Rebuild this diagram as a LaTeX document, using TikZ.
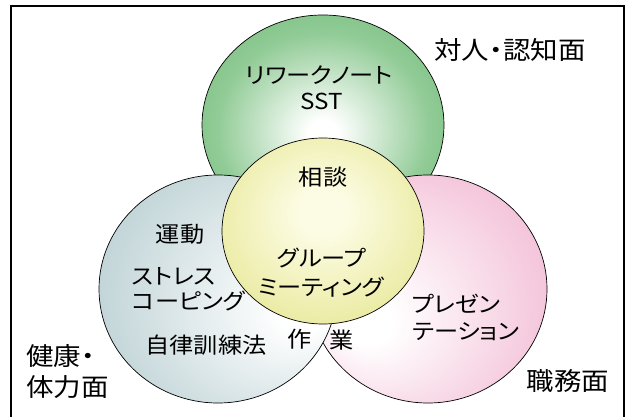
\documentclass[tikz,border=0pt]{standalone}
\usepackage{fontspec}
\newfontfamily\jpfont[FakeStretch=1.1,RawFeature=+palt]{Noto Sans CJK JP}
\definecolor{greenout}{RGB}{80,172,90}
\definecolor{greenmid}{RGB}{145,203,150}
\definecolor{yellowout}{RGB}{218,218,100}
\definecolor{yellowin}{RGB}{252,252,228}
\definecolor{blueout}{RGB}{155,186,191}
\definecolor{pinkout}{RGB}{236,155,192}
\pgfdeclareradialshading{greenball}{\pgfpoint{0bp}{-2bp}}{color(0bp)=(white); color(3bp)=(white); color(22bp)=(greenmid); color(50bp)=(greenout)}
\pgfdeclareradialshading{yellowball}{\pgfpoint{0bp}{6bp}}{color(0bp)=(yellowin); color(6bp)=(yellowin); color(50bp)=(yellowout)}
\pgfdeclareradialshading{blueball}{\pgfpoint{20bp}{-5bp}}{color(0bp)=(white); color(5bp)=(white); color(50bp)=(blueout)}
\pgfdeclareradialshading{pinkball}{\pgfpoint{-14bp}{-8bp}}{color(0bp)=(white); color(5bp)=(white); color(50bp)=(pinkout)}
\tikzset{
  ring/.style={draw=black, line width=0.7pt},
  lbl/.style={inner sep=0pt, font=\jpfont\fontsize{22}{26}\selectfont, text=black},
  biglbl/.style={inner sep=0pt, font=\jpfont\fontsize{25}{30}\selectfont, text=black},
  frameline/.style={draw=black, line width=1.4pt}
}
\begin{document}
\begin{tikzpicture}[x=1pt,y=-1pt]
\useasboundingbox (0,0) rectangle (626,417);
\fill[white] (0,0) rectangle (626,417);
% frame
\coordinate (fbl) at (11,420);
\coordinate (ftl) at (11,6);
\coordinate (ftr) at (624,6);
\coordinate (fbr) at (624,420);
\draw[frameline] (fbl) -- (ftl) -- (ftr) -- (fbr);
% circles
\shadedraw[ring, shading=greenball] (323,125) ellipse [x radius=121pt, y radius=110pt];
\shadedraw[ring, shading=pinkball] (428,289) ellipse [x radius=119pt, y radius=114pt];
\shadedraw[ring, shading=blueball] (218,289) ellipse [x radius=119pt, y radius=114pt];
\shadedraw[ring, shading=yellowball] (323,231) ellipse [x radius=101pt, y radius=93pt];
% labels
\node[biglbl] (t1) at (510,50) {対人・認知面};
\node[lbl] (g1) at (319,75) {リワークノート};
\node[lbl] (g2) at (322,101) {SST};
\node[lbl] (y1) at (323,177) {相談};
\node[lbl] (y2) at (322,258) {グループ};
\node[lbl] (y3) at (321,287) {ミーティング};
\node[lbl] (b1) at (180,234) {運動};
\node[lbl, anchor=west] (b2) at (132,276) {ストレス};
\node[lbl, anchor=west] (b3) at (132,301) {コーピング};
\node[lbl] (b4) at (206,345) {自律訓練法};
\node[lbl] (w1) at (300,339) {作};
\node[lbl] (w2) at (342,340) {業};
\node[lbl, anchor=west] (p1) at (412,304) {プレゼン};
\node[lbl, anchor=west] (p2) at (412,332) {テーション};
\node[biglbl] (t2) at (568,381) {職務面};
\node[biglbl, anchor=west] (t3) at (26,356) {健康・};
\node[biglbl, anchor=west] (t4) at (26,387) {体力面};
\end{tikzpicture}
\end{document}
